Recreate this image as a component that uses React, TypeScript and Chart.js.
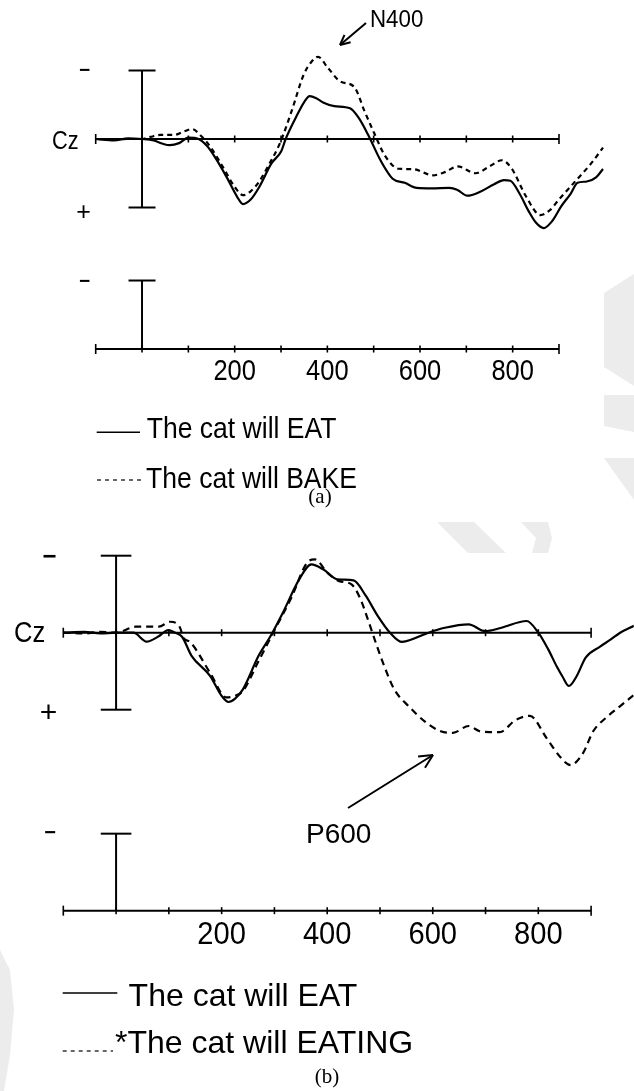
import React, { useEffect, useRef } from "react";
import { Chart, registerables } from "chart.js";
Chart.register(...registerables);

// ---------- DATA (ms, microvolts; positive plotted downward) ----------
const aEatTimes = [-100, -60, -30, 0, 25, 45, 60, 80, 100, 122, 140, 157, 183, 205, 218, 235, 253, 279, 301, 310, 332, 350, 362, 375, 392, 415, 449, 467, 489, 515, 541, 567, 593, 625, 663, 680, 702, 730, 760, 781, 795, 815, 835, 850, 867, 885, 905, 925, 940, 960, 980, 995];
const aEatValues = [0, 0.1, -0.05, 0, 0.1, 0.35, 0.45, 0.3, -0.1, 0, 0.5, 1.3, 2.8, 4.2, 4.75, 4.4, 3.5, 1.8, 0.85, 0, -1.57, -2.7, -3.13, -3.0, -2.65, -2.4, -2.24, -1.57, -0.24, 1.57, 2.9, 3.2, 3.57, 3.6, 3.57, 3.7, 4.14, 3.85, 3.3, 3.0, 3.05, 4.0, 5.3, 6.1, 6.5, 6.0, 4.9, 4.0, 3.2, 3.1, 2.8, 2.19];

const aBakeTimes = [-100, -60, -30, 0, 18, 40, 70, 90, 108, 127, 148, 179, 200, 218, 235, 253, 275, 297, 323, 349, 365, 380, 401, 428, 458, 480, 502, 524, 554, 585, 628, 655, 681, 720, 750, 777, 798, 829, 860, 880, 899, 934, 969, 995];
const aBakeValues = [0, 0.05, 0, 0, -0.15, -0.3, -0.3, -0.55, -0.72, -0.24, 0.6, 2.3, 3.5, 4.1, 3.8, 3.1, 1.8, 0.36, -2.05, -4.7, -5.6, -6.0, -5.2, -4.2, -3.8, -2.05, -0.36, 1.2, 2.17, 2.2, 2.65, 2.4, 2.0, 2.5, 2.0, 1.55, 2.17, 4.2, 5.55, 5.2, 4.45, 3.13, 1.8, 0.63];

const bEatTimes = [-100, -60, -30, 0, 33, 58, 80, 99, 112, 125, 143, 178, 200, 213, 225, 240, 270, 293, 316, 347, 370, 393, 420, 450, 473, 496, 519, 542, 561, 592, 623, 668, 699, 730, 778, 800, 819, 835, 846, 858, 872, 890, 917, 936, 955, 981];
const bEatValues = [0, -0.05, 0.05, 0, 0, 0.58, 0.25, -0.17, 0, 0.26, 1.5, 2.8, 4.1, 4.5, 4.3, 3.7, 1.5, 0.2, -1.3, -3.46, -4.44, -4.1, -3.46, -3.4, -2.4, -1.08, 0, 0.6, 0.43, 0, -0.32, -0.54, -0.1, -0.32, -0.76, 0, 1.1, 2.2, 2.86, 3.46, 2.86, 1.6, 0.9, 0.47, 0, -0.45];

const bEatingTimes = [-100, -60, -30, 0, 37, 60, 81, 102, 121, 128, 140, 178, 209, 225, 240, 270, 301, 332, 362, 377, 400, 423, 446, 462, 477, 492, 508, 527, 554, 584, 615, 638, 668, 689, 707, 727, 757, 784, 816, 841, 861, 885, 904, 929, 954, 981];
const bEatingValues = [0, 0.05, -0.05, 0, -0.39, -0.4, -0.39, -0.71, -0.34, 0.35, 0.6, 2.6, 4.2, 4.1, 3.8, 1.84, -0.22, -2.27, -4.55, -4.76, -3.9, -3.35, -3.14, -2.27, -0.87, 0.65, 2.16, 3.68, 4.76, 5.74, 6.4, 6.5, 6.06, 6.4, 6.45, 6.45, 5.67, 5.4, 6.86, 8.05, 8.6, 7.8, 6.4, 5.5, 4.8, 4.05];

const axisTicks = [-100, 0, 100, 200, 300, 400, 500, 600, 700, 800, 900];
const tickLabelValues = [200, 400, 600, 800];
const tickLabels = ["200", "400", "600", "800"];
const scaleBarUv = 5;
const legendA = ["The cat will EAT", "The cat will BAKE"];
const legendB = ["The cat will EAT", "*The cat will EATING"];
const electrode = "Cz";

const FONT = "'Liberation Sans', Arial, Helvetica, sans-serif";
const SERIF = "'Liberation Serif', 'Times New Roman', serif";
const W = 634;
const WATERMARK = "#ececec";

type Pt = [number, number];
type Panel = {
  top: number; height: number; x0px: number; pxPer100: number; xMax: number;
  basePx: number; pxPerUv: number; lowerAxisUv: number; dash: number[];
  capHalf: number; tickFont: number; tickSx: number; tickGap: number;
  czX: number; czY: number; czFont: number; czSx: number;
  minusTop: [number, number, number]; plus: [number, number, number]; minusLow: [number, number, number];
  legend: string[]; legFont: number; legSx: number;
  leg1: { y: number; x1: number; x2: number; tx: number; ty: number };
  leg2: { y: number; x1: number; x2: number; tx: number; ty: number };
  caption: string; capX: number; capY: number;
  comp: string; compX: number; compY: number; compFont: number; compSx: number;
  arrow: [number, number, number, number]; headLen: number;
  marks: Pt[][];
};

function txt(ctx: CanvasRenderingContext2D, s: string, x: number, y: number, size: number, sx = 1,
  align: CanvasTextAlign = "left", base: CanvasTextBaseline = "alphabetic", fam = FONT, weight = "normal") {
  ctx.save();
  ctx.font = `${weight} ${size}px ${fam}`;
  ctx.textAlign = align;
  ctx.textBaseline = base;
  ctx.fillStyle = "#000";
  ctx.translate(x, y);
  ctx.scale(sx, 1);
  ctx.fillText(s, 0, 0);
  ctx.restore();
}

function seg(ctx: CanvasRenderingContext2D, x1: number, y1: number, x2: number, y2: number) {
  ctx.beginPath();
  ctx.moveTo(x1, y1);
  ctx.lineTo(x2, y2);
  ctx.stroke();
}

function overlay(p: Panel) {
  return {
    id: "erpOverlay",
    beforeDraw(chart: any) {
      const ctx: CanvasRenderingContext2D = chart.ctx;
      ctx.save();
      ctx.fillStyle = "#fff";
      ctx.fillRect(0, 0, chart.width, chart.height);
      ctx.fillStyle = WATERMARK;
      p.marks.forEach((poly) => {
        ctx.beginPath();
        poly.forEach(([x, y], i) => (i === 0 ? ctx.moveTo(x, y) : ctx.lineTo(x, y)));
        ctx.closePath();
        ctx.fill();
      });
      ctx.restore();
    },
    beforeDatasetsDraw(chart: any) {
      const ctx: CanvasRenderingContext2D = chart.ctx;
      const X = (v: number) => chart.scales.x.getPixelForValue(v);
      const Y = (v: number) => chart.scales.y.getPixelForValue(v);
      ctx.save();
      ctx.strokeStyle = "#000";
      const last = axisTicks.length - 1;
      const axis = (uv: number) => {
        const y = Y(uv);
        ctx.lineWidth = 2;
        seg(ctx, X(axisTicks[0]), y, X(axisTicks[last]), y);
        ctx.lineWidth = 1.6;
        axisTicks.forEach((t, i) => {
          const h = i === 0 || i === last ? 5 : 3.5;
          seg(ctx, X(t), y - h, X(t), y + h);
        });
      };
      axis(0);
      axis(p.lowerAxisUv);
      ctx.lineWidth = 2;
      const bx = X(0);
      seg(ctx, bx, Y(-scaleBarUv), bx, Y(scaleBarUv));
      seg(ctx, bx - p.capHalf, Y(-scaleBarUv), bx + p.capHalf, Y(-scaleBarUv));
      seg(ctx, bx - p.capHalf, Y(scaleBarUv), bx + p.capHalf, Y(scaleBarUv));
      seg(ctx, bx, Y(p.lowerAxisUv - scaleBarUv), bx, Y(p.lowerAxisUv));
      seg(ctx, bx - p.capHalf, Y(p.lowerAxisUv - scaleBarUv), bx + p.capHalf, Y(p.lowerAxisUv - scaleBarUv));
      ctx.restore();
    },
    afterDraw(chart: any) {
      const ctx: CanvasRenderingContext2D = chart.ctx;
      const X = (v: number) => chart.scales.x.getPixelForValue(v);
      const Y = (v: number) => chart.scales.y.getPixelForValue(v);
      // tick labels
      const ly = Y(p.lowerAxisUv) + p.tickGap;
      tickLabelValues.forEach((v, i) => txt(ctx, tickLabels[i], X(v), ly, p.tickFont, p.tickSx, "center", "top"));
      // electrode + polarity
      txt(ctx, electrode, p.czX, p.czY, p.czFont, p.czSx, "left", "middle");
      txt(ctx, "\u2212", p.minusTop[0], p.minusTop[1], p.minusTop[2], 1, "center", "middle", FONT, "bold");
      txt(ctx, "+", p.plus[0], p.plus[1], p.plus[2], 1, "center", "middle");
      txt(ctx, "\u2212", p.minusLow[0], p.minusLow[1], p.minusLow[2], 1, "center", "middle", FONT, "bold");
      // legend
      ctx.save();
      ctx.strokeStyle = "#000";
      ctx.lineWidth = 1.6;
      seg(ctx, p.leg1.x1, p.leg1.y, p.leg1.x2, p.leg1.y);
      ctx.lineWidth = 1.2;
      ctx.setLineDash([4, 4]);
      seg(ctx, p.leg2.x1, p.leg2.y, p.leg2.x2, p.leg2.y);
      ctx.restore();
      txt(ctx, p.legend[0], p.leg1.tx, p.leg1.ty, p.legFont, p.legSx);
      txt(ctx, p.legend[1], p.leg2.tx, p.leg2.ty, p.legFont, p.legSx);
      // caption
      txt(ctx, p.caption, p.capX, p.capY, 21, 1, "center", "middle", SERIF);
      // component label and arrow
      txt(ctx, p.comp, p.compX, p.compY, p.compFont, p.compSx);
      const [ax1, ay1, ax2, ay2] = p.arrow;
      ctx.save();
      ctx.strokeStyle = "#000";
      ctx.lineWidth = 2;
      seg(ctx, ax1, ay1, ax2, ay2);
      const ang = Math.atan2(ay2 - ay1, ax2 - ax1);
      const a1 = ang + Math.PI - 0.45, a2 = ang + Math.PI + 0.45;
      seg(ctx, ax2, ay2, ax2 + p.headLen * Math.cos(a1), ay2 + p.headLen * Math.sin(a1));
      seg(ctx, ax2, ay2, ax2 + p.headLen * Math.cos(a2), ay2 + p.headLen * Math.sin(a2));
      ctx.restore();
    },
  };
}

const panelA: Panel = {
  top: 0, height: 510, x0px: 95.7, pxPer100: 46.33, xMax: 1000,
  basePx: 139, pxPerUv: 13.7, lowerAxisUv: 15.33, dash: [5, 4],
  capHalf: 13.5, tickFont: 30, tickSx: 0.85, tickGap: 8,
  czX: 52, czY: 142, czFont: 25, czSx: 0.87,
  minusTop: [84.5, 71, 19], plus: [83.5, 213.5, 25], minusLow: [84.5, 281.7, 19],
  legend: legendA, legFont: 30, legSx: 0.885,
  leg1: { y: 432.3, x1: 96.7, x2: 140, tx: 146.7, ty: 438.3 },
  leg2: { y: 480, x1: 97, x2: 143, tx: 146, ty: 488.3 },
  caption: "(a)", capX: 320, capY: 497,
  comp: "N400", compX: 370, compY: 27, compFont: 24, compSx: 0.93,
  arrow: [366, 23, 340, 45], headLen: 11,
  marks: [
    [[634, 274], [604, 293], [604, 367], [634, 386]],
    [[604, 395], [634, 395], [634, 432], [604, 426]],
    [[604, 458], [634, 458], [634, 500]],
  ],
};

const panelB: Panel = {
  top: 510, height: 581, x0px: 63.3, pxPer100: 52.78, xMax: 981,
  basePx: 122.7, pxPerUv: 15.4, lowerAxisUv: 18.05, dash: [7, 5],
  capHalf: 15.3, tickFont: 32, tickSx: 0.91, tickGap: 9,
  czX: 14, czY: 124, czFont: 29, czSx: 0.88,
  minusTop: [49.5, 47, 24], plus: [48.5, 203.5, 30], minusLow: [50, 323, 20],
  legend: legendB, legFont: 32, legSx: 1.0,
  leg1: { y: 483, x1: 62.7, x2: 117.3, tx: 128.6, ty: 496 },
  leg2: { y: 541, x1: 62.7, x2: 113, tx: 115, ty: 543 },
  caption: "(b)", capX: 327, capY: 567,
  comp: "P600", compX: 306, compY: 333, compFont: 28, compSx: 1,
  arrow: [348, 298, 433, 245], headLen: 15,
  marks: [
    [[437, 12], [474, 12], [506, 43], [468, 43]],
    [[521, 12], [548, 12], [552, 28], [548, 43], [532, 43], [536, 28]],
    [[0, 440], [10, 460], [14, 500], [10, 545], [4, 581], [0, 581]],
  ],
};

function toXY(ts: number[], vs: number[]) {
  return ts.map((t, i) => ({ x: t, y: vs[i] }));
}

function ErpPanel({ p, solid, dashed }: { p: Panel; solid: { x: number; y: number }[]; dashed: { x: number; y: number }[] }) {
  const ref = useRef<HTMLCanvasElement | null>(null);
  useEffect(() => {
    if (!ref.current) return;
    const left = p.x0px;
    const right = left + ((p.xMax + 100) * p.pxPer100) / 100;
    const yMin = -p.basePx / p.pxPerUv;
    const yMax = (p.height - p.basePx) / p.pxPerUv;
    const chart = new Chart(ref.current, {
      type: "line",
      data: {
        datasets: [
          { label: p.legend[0], data: solid, borderColor: "#000", borderWidth: 2.2, pointRadius: 0, fill: false, cubicInterpolationMode: "monotone" },
          { label: p.legend[1], data: dashed, borderColor: "#000", borderWidth: 2.2, borderDash: p.dash, pointRadius: 0, fill: false, cubicInterpolationMode: "monotone" },
        ],
      },
      options: {
        responsive: false,
        animation: false,
        events: [],
        layout: { padding: { left, right: W - right, top: 0, bottom: 0 } },
        scales: {
          x: { type: "linear", min: -100, max: p.xMax, display: false },
          y: { type: "linear", min: yMin, max: yMax, reverse: true, display: false },
        },
        plugins: { legend: { display: false }, tooltip: { enabled: false }, title: { display: false } },
      },
      plugins: [overlay(p)],
    } as any);
    return () => chart.destroy();
  }, [p, solid, dashed]);
  return (
    <canvas ref={ref} width={W} height={p.height}
      style={{ position: "absolute", left: 0, top: p.top, width: W, height: p.height, display: "block" }} />
  );
}

const aSolid = toXY(aEatTimes, aEatValues);
const aDashed = toXY(aBakeTimes, aBakeValues);
const bSolid = toXY(bEatTimes, bEatValues);
const bDashed = toXY(bEatingTimes, bEatingValues);

export default function App() {
  return (
    <div style={{ position: "absolute", left: 0, top: 0, width: W, height: 1091, background: "#fff", overflow: "hidden" }}>
      <ErpPanel p={panelA} solid={aSolid} dashed={aDashed} />
      <ErpPanel p={panelB} solid={bSolid} dashed={bDashed} />
    </div>
  );
}
